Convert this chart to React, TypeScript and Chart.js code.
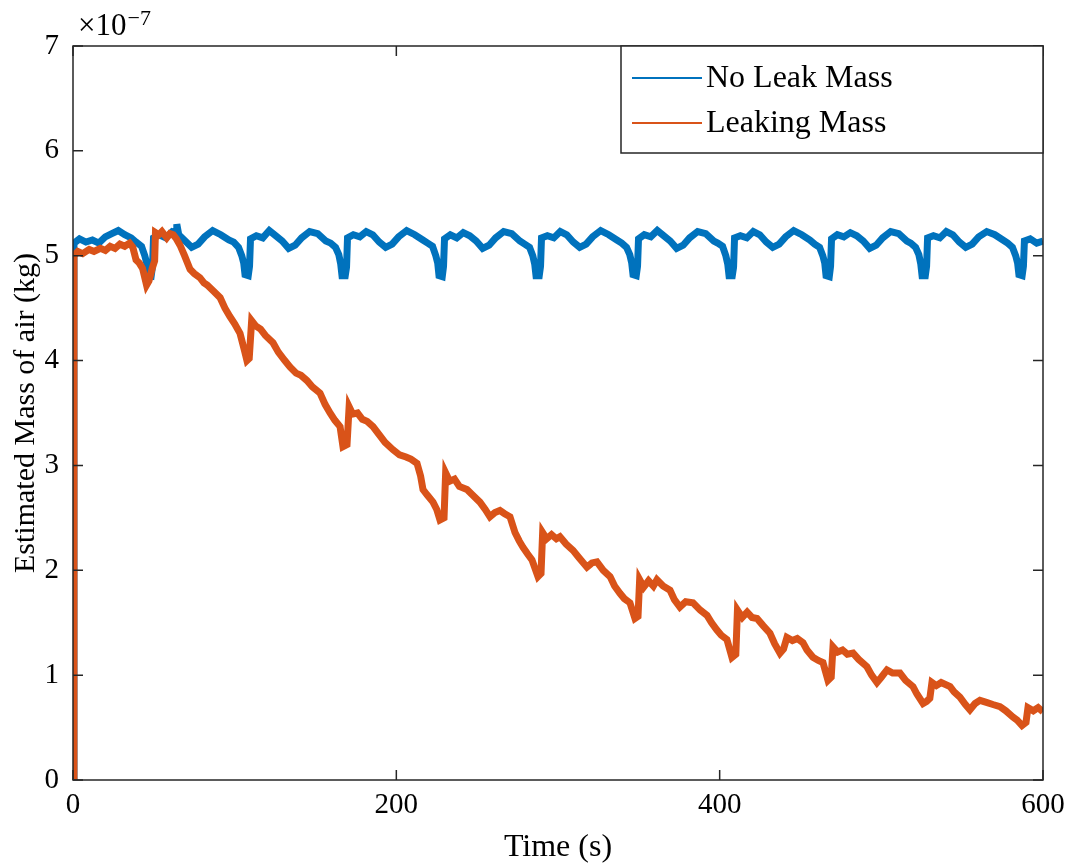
import React, { useEffect, useRef } from "react";
import { Chart, registerables } from "chart.js";

Chart.register(...registerables);

// Time in seconds, mass in units of 1e-7 kg
const SERIES_LABELS = ["No Leak Mass", "Leaking Mass"];
const X_TICKS = [0, 200, 400, 600];
const Y_TICKS = [0, 1, 2, 3, 4, 5, 6, 7];
const Y_EXPONENT = "−7";

const noLeakTime = [
  0, 0.6, 4, 8, 12, 16, 20, 24, 28, 32, 36, 39,
  42.4, 44.4, 45.6, 46.4, 48.4, 49.2, 49.8, 53.4, 57.4, 61.4, 63.8, 64.2, 65.4, 69.4, 73.4, 77.4, 81.4, 86.4, 91.4, 96.4, 99.4,
  102.4, 104.4, 105.6, 106.4, 108.4, 109.2, 109.8, 113.4, 117.4, 121.4, 125.4, 129.4, 133.4, 137.4, 141.4, 146.4, 151.4, 156.4, 159.4,
  162.4, 164.4, 165.6, 166.4, 168.4, 169.2, 169.8, 173.4, 177.4, 181.4, 185.4, 189.4, 193.4, 197.4, 201.4, 206.4, 211.4, 216.4, 219.4,
  222.4, 224.4, 225.6, 226.4, 228.4, 229.2, 229.8, 233.4, 237.4, 241.4, 245.4, 249.4, 253.4, 257.4, 261.4, 266.4, 271.4, 276.4, 279.4,
  282.4, 284.4, 285.6, 286.4, 288.4, 289.2, 289.8, 293.4, 297.4, 301.4, 305.4, 309.4, 313.4, 317.4, 321.4, 326.4, 331.4, 336.4, 339.4,
  342.4, 344.4, 345.6, 346.4, 348.4, 349.2, 349.8, 353.4, 357.4, 361.4, 365.4, 369.4, 373.4, 377.4, 381.4, 386.4, 391.4, 396.4, 398.8,
  401.8, 403.8, 405, 405.8, 407.8, 408.6, 409.2, 412.8, 416.8, 420.8, 424.8, 428.8, 432.8, 436.8, 440.8, 445.8, 450.8, 455.8, 458.8,
  461.8, 463.8, 465, 465.8, 467.8, 468.6, 469.2, 472.8, 476.8, 480.8, 484.8, 488.8, 492.8, 496.8, 500.8, 505.8, 510.8, 515.8, 518.2,
  521.2, 523.2, 524.4, 525.2, 527.2, 528, 528.6, 532.2, 536.2, 540.2, 544.2, 548.2, 552.2, 556.2, 560.2, 565.2, 570.2, 575.2, 578.1,
  581.1, 583.1, 584.3, 585.1, 587.1, 587.9, 588.5, 592.1, 596.1, 600,
];
const noLeakMass = [
  0, 5.12, 5.16, 5.13, 5.15, 5.12, 5.18, 5.21, 5.24, 5.2, 5.17, 5.13,
  5.09, 5.0, 4.93, 4.82, 4.81, 4.9, 5.17, 5.2, 5.17, 5.23, 5.22, 5.3, 5.2, 5.14, 5.08, 5.11, 5.18, 5.24, 5.2, 5.15, 5.13,
  5.08, 5.0, 4.93, 4.82, 4.81, 4.9, 5.16, 5.19, 5.17, 5.24, 5.19, 5.14, 5.07, 5.1, 5.17, 5.23, 5.21, 5.14, 5.12,
  5.08, 5.01, 4.92, 4.81, 4.81, 4.89, 5.17, 5.2, 5.18, 5.23, 5.2, 5.13, 5.08, 5.11, 5.18, 5.24, 5.2, 5.15, 5.12,
  5.09, 5.0, 4.93, 4.81, 4.8, 4.9, 5.16, 5.2, 5.17, 5.22, 5.19, 5.14, 5.07, 5.1, 5.17, 5.23, 5.21, 5.14, 5.11,
  5.08, 5.0, 4.92, 4.81, 4.81, 4.9, 5.17, 5.19, 5.17, 5.23, 5.2, 5.13, 5.08, 5.11, 5.18, 5.24, 5.2, 5.15, 5.12,
  5.08, 5.01, 4.93, 4.82, 4.81, 4.9, 5.16, 5.2, 5.18, 5.24, 5.19, 5.14, 5.07, 5.1, 5.17, 5.23, 5.21, 5.14, 5.12,
  5.09, 5.0, 4.92, 4.81, 4.81, 4.89, 5.17, 5.19, 5.17, 5.23, 5.2, 5.13, 5.08, 5.11, 5.18, 5.24, 5.2, 5.15, 5.11,
  5.08, 5.0, 4.93, 4.81, 4.8, 4.9, 5.16, 5.2, 5.18, 5.22, 5.19, 5.14, 5.07, 5.1, 5.17, 5.23, 5.21, 5.14, 5.12,
  5.08, 5.01, 4.92, 4.81, 4.81, 4.9, 5.17, 5.19, 5.17, 5.23, 5.2, 5.13, 5.08, 5.11, 5.18, 5.23, 5.2, 5.15, 5.12,
  5.08, 5.0, 4.93, 4.82, 4.81, 4.9, 5.14, 5.16, 5.12, 5.14,
];

const leakTime = [
  0, 0.6, 3, 6, 10, 13, 17, 20, 23, 26, 29, 32, 35, 37, 39, 41, 43, 45.5, 47, 49, 50.5, 51, 53, 55, 58, 60, 62, 64,
  66.2, 69, 72.4, 75, 78.5, 81, 83, 87, 91, 94, 97, 100, 103.3, 106, 107.6, 109, 110.5, 113, 116, 119, 123.7, 127,
  131, 134.2, 138, 141, 144.7, 148, 152.8, 156, 159, 162, 165.2, 167, 169.5, 170.8, 173, 176, 179, 182, 185.6, 189,
  193, 197.9, 202, 206, 209, 212.8, 215, 216.5, 219, 222.7, 225, 227, 229.5, 230.5, 233, 236, 239, 243.7, 247, 251.7,
  255, 257.9, 261, 264.1, 267, 270.3, 273.4, 276, 278.3, 281, 283.9, 287.6, 289.5, 290.5, 293, 296, 299, 301.2, 305,
  309.3, 313, 317.9, 321, 324.1, 328, 332.2, 335, 338.3, 341, 344.5, 347.6, 349.5, 350.5, 353, 356, 359, 361.2, 365,
  369.3, 372, 375.4, 379, 383.5, 388, 392.2, 395, 398.3, 401, 404.5, 407.6, 410, 411, 414, 417, 420, 423.1, 427, 431.1,
  434, 437.3, 439.5, 441.6, 445, 448, 451.5, 454, 457.7, 461, 463.9, 467, 469, 470.1, 473, 476, 479, 482.5, 486, 491.1,
  494, 497.3, 500, 503.5, 507, 511.5, 515, 519.6, 522, 525.8, 528, 530, 531.3, 534, 537, 542.5, 545, 548.6, 552, 554.8,
  558, 561, 565, 569, 573.4, 577, 581.4, 584, 587, 589.5, 590.7, 594, 597, 600,
];
const leakMass = [
  0, 5.0, 5.04, 5.02, 5.06, 5.04, 5.07, 5.05, 5.09, 5.07, 5.11, 5.09, 5.12, 5.08, 4.96, 4.93, 4.88, 4.72, 4.76, 4.88, 4.95, 5.22, 5.2, 5.23, 5.17, 5.21, 5.2, 5.16,
  5.1, 5.0, 4.87, 4.83, 4.79, 4.74, 4.72, 4.66, 4.6, 4.5, 4.42, 4.35, 4.26, 4.1, 4.0, 4.02, 4.38, 4.33, 4.3, 4.24, 4.17, 4.08,
  4.0, 3.94, 3.88, 3.86, 3.81, 3.75, 3.69, 3.58, 3.5, 3.43, 3.37, 3.18, 3.2, 3.56, 3.49, 3.5, 3.44, 3.42, 3.37, 3.3,
  3.22, 3.15, 3.1, 3.08, 3.06, 3.02, 2.9, 2.77, 2.72, 2.65, 2.58, 2.48, 2.5, 2.93, 2.85, 2.87, 2.8, 2.77, 2.72, 2.65,
  2.58, 2.51, 2.55, 2.57, 2.54, 2.51, 2.36, 2.28, 2.22, 2.16, 2.1, 1.94, 1.97, 2.36, 2.3, 2.34, 2.3, 2.32, 2.25,
  2.19, 2.12, 2.03, 2.07, 2.08, 2.0, 1.94, 1.85, 1.78, 1.73, 1.69, 1.54, 1.56, 1.91, 1.84, 1.9, 1.85, 1.91, 1.85,
  1.81, 1.72, 1.65, 1.7, 1.69, 1.62, 1.57, 1.5, 1.43, 1.38, 1.34, 1.17, 1.2, 1.62, 1.55, 1.6, 1.55, 1.54, 1.47, 1.4,
  1.3, 1.21, 1.25, 1.36, 1.33, 1.35, 1.31, 1.24, 1.17, 1.14, 1.12, 0.95, 0.98, 1.27, 1.22, 1.24, 1.2, 1.21, 1.15, 1.08,
  1.0, 0.93, 0.98, 1.05, 1.02, 1.02, 0.95, 0.89, 0.82, 0.73, 0.75, 0.78, 0.93, 0.9, 0.93, 0.89, 0.84, 0.79, 0.72, 0.67,
  0.73, 0.76, 0.74, 0.72, 0.7, 0.66, 0.6, 0.57, 0.52, 0.55, 0.69, 0.66, 0.69, 0.65,
];

const COLORS = ["#0072BD", "#D95319"];
const AXIS_COLOR = "#262626";
const FONT = "'Liberation Serif', 'Times New Roman', serif";

const framePlugin = {
  id: "matlabFrame",
  afterDraw(chart: any) {
    const { ctx, chartArea: a, scales } = chart;
    const xs = scales.x;
    const ys = scales.y;
    ctx.save();
    ctx.strokeStyle = AXIS_COLOR;
    ctx.lineWidth = 1.5;
    ctx.strokeRect(a.left, a.top, a.right - a.left, a.bottom - a.top);
    const len = 10;
    ctx.beginPath();
    X_TICKS.forEach((v) => {
      const px = xs.getPixelForValue(v);
      ctx.moveTo(px, a.bottom);
      ctx.lineTo(px, a.bottom - len);
      ctx.moveTo(px, a.top);
      ctx.lineTo(px, a.top + len);
    });
    Y_TICKS.forEach((v) => {
      const py = ys.getPixelForValue(v);
      ctx.moveTo(a.left, py);
      ctx.lineTo(a.left + len, py);
      ctx.moveTo(a.right, py);
      ctx.lineTo(a.right - len, py);
    });
    ctx.stroke();

    // exponent label
    ctx.fillStyle = "#000";
    ctx.textBaseline = "alphabetic";
    ctx.textAlign = "left";
    ctx.font = `31px ${FONT}`;
    ctx.fillText("×10", a.left + 5, a.top - 11);
    const w = ctx.measureText("×10").width;
    ctx.font = `22px ${FONT}`;
    ctx.fillText(Y_EXPONENT, a.left + 5 + w + 1, a.top - 21);

    // legend
    const lx = 621;
    const lw = a.right - lx;
    const ly = a.top;
    const lh = 107;
    ctx.fillStyle = "#fff";
    ctx.fillRect(lx, ly, lw, lh);
    ctx.strokeStyle = AXIS_COLOR;
    ctx.lineWidth = 1.5;
    ctx.strokeRect(lx, ly, lw, lh);
    chart.data.datasets.forEach((ds: any, i: number) => {
      const yy = ly + 32 + i * 45;
      ctx.strokeStyle = ds.borderColor;
      ctx.lineWidth = 2;
      ctx.beginPath();
      ctx.moveTo(lx + 11, yy);
      ctx.lineTo(lx + 81, yy);
      ctx.stroke();
      ctx.fillStyle = "#000";
      ctx.font = `32px ${FONT}`;
      ctx.textBaseline = "middle";
      ctx.fillText(ds.label, lx + 85, yy + 1);
    });
    ctx.restore();
  },
};

export default function App() {
  const ref = useRef<HTMLCanvasElement | null>(null);
  useEffect(() => {
    if (!ref.current) return;
    const toPts = (t: number[], m: number[]) => t.map((x, i) => ({ x, y: m[i] }));
    const chart = new Chart(ref.current, {
      type: "line",
      data: {
        datasets: [
          {
            label: SERIES_LABELS[0],
            data: toPts(noLeakTime, noLeakMass),
            borderColor: COLORS[0],
            backgroundColor: COLORS[0],
            borderWidth: 7,
            borderJoinStyle: "miter",
            pointRadius: 0,
            tension: 0,
            order: 2,
          },
          {
            label: SERIES_LABELS[1],
            data: toPts(leakTime, leakMass),
            borderColor: COLORS[1],
            backgroundColor: COLORS[1],
            borderWidth: 7,
            borderJoinStyle: "miter",
            pointRadius: 0,
            tension: 0,
            order: 1,
          },
        ],
      },
      options: {
        responsive: false,
        animation: false,
        layout: { padding: { top: 46, right: 30, left: 0, bottom: 0 } },
        plugins: { legend: { display: false }, tooltip: { enabled: false } },
        scales: {
          x: {
            type: "linear",
            min: 0,
            max: 600,
            afterBuildTicks: (s: any) => {
              s.ticks = X_TICKS.map((v) => ({ value: v }));
            },
            afterFit: (s: any) => {
              s.height = 87;
            },
            ticks: { color: "#000", font: { family: FONT, size: 29 }, padding: 0, maxRotation: 0 },
            grid: { display: false },
            border: { display: false },
            title: { display: true, text: "Time (s)", color: "#000", font: { family: FONT, size: 32 }, padding: { top: 0, bottom: 0 } },
          },
          y: {
            type: "linear",
            min: 0,
            max: 7,
            afterBuildTicks: (s: any) => {
              s.ticks = Y_TICKS.map((v) => ({ value: v }));
            },
            afterFit: (s: any) => {
              s.width = 73;
            },
            ticks: { color: "#000", font: { family: FONT, size: 29 }, padding: 6 },
            grid: { display: false },
            border: { display: false },
            title: { display: true, text: "Estimated Mass of air (kg)", color: "#000", font: { family: FONT, size: 30 }, padding: { top: 8, bottom: 0 } },
          },
        },
      },
      plugins: [framePlugin],
    });
    return () => chart.destroy();
  }, []);
  return (
    <div style={{ position: "absolute", left: 0, top: 0, width: 1073, height: 867, background: "#fff" }}>
      <canvas ref={ref} width={1073} height={867} style={{ width: 1073, height: 867, display: "block" }} />
    </div>
  );
}
